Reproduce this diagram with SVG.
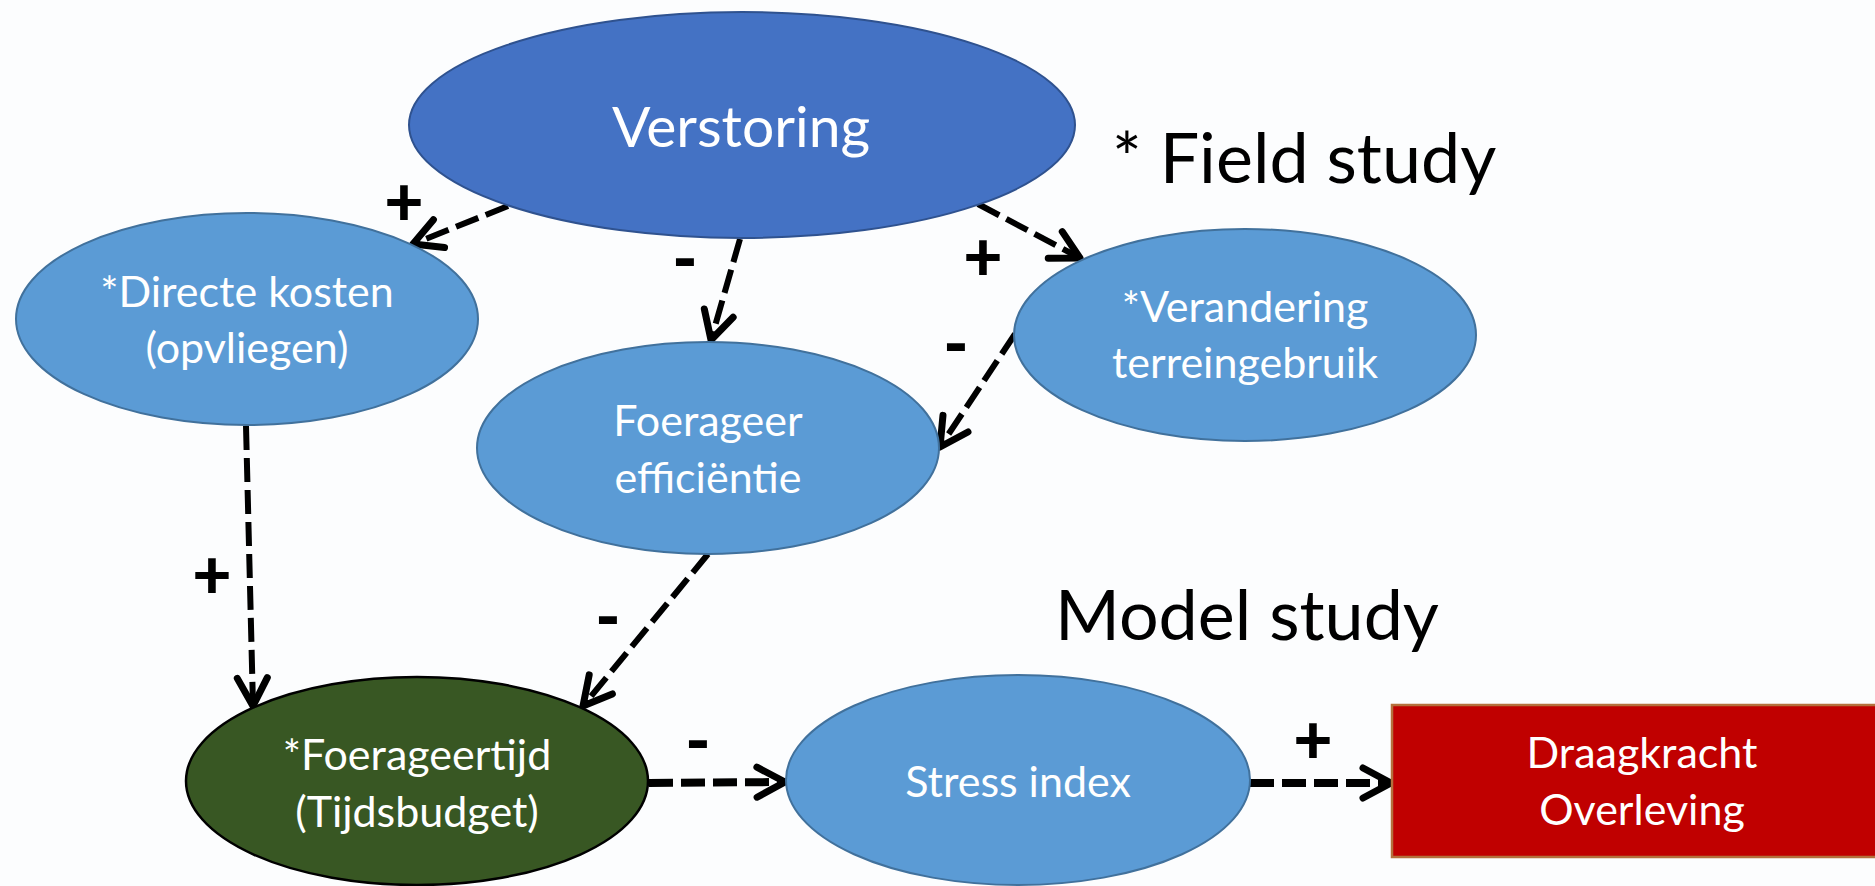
<svg xmlns="http://www.w3.org/2000/svg" width="1875" height="886" viewBox="0 0 1875 886">
<style>
.bg{fill:#FCFDFE}
.node-text{font-family:Lato,"Liberation Sans",sans-serif;fill:#FFFFFF;text-anchor:middle}
.blue{fill:#5B9BD5;stroke:#41719C;stroke-width:2}
.dark{fill:#4472C4;stroke:#2F528F;stroke-width:2}
.green{fill:#385723;stroke:#000000;stroke-width:2.5}
.red{fill:#C00000;stroke:#B4703C;stroke-width:2.5}
.conn{fill:none;stroke:#000000;stroke-width:6;stroke-dasharray:24 8}
.conn-h{stroke-width:8}
.sign{font-family:Lato,"Liberation Sans",sans-serif;font-weight:900;font-size:68px;fill:#000000;text-anchor:middle}
.title{font-family:Lato,"Liberation Sans",sans-serif;font-size:70px;fill:#000000}
</style>
<defs>
<marker id="arrow" markerUnits="userSpaceOnUse" markerWidth="60" markerHeight="60" viewBox="-40 -30 50 60" refX="0" refY="0" orient="auto" overflow="visible">
<path d="M -28 -15 L 0 0 L -28 15" fill="none" stroke="#000000" stroke-width="7" stroke-linecap="round" stroke-linejoin="round" stroke-dasharray="none"/>
</marker>
</defs>
<rect class="bg" x="0" y="0" width="1875" height="886"/>

<g id="connectors">
<path class="conn" d="M 508 206 L 413 244" marker-end="url(#arrow)"/>
<path class="conn" d="M 740 239 L 711 340" marker-end="url(#arrow)"/>
<path class="conn" d="M 978 204 L 1080 258" marker-end="url(#arrow)"/>
<path class="conn" d="M 1015 334 L 940 447" marker-end="url(#arrow)"/>
<path class="conn" d="M 246 426 L 253 706" marker-end="url(#arrow)"/>
<path class="conn" d="M 708 554 L 583 706" marker-end="url(#arrow)"/>
<path class="conn conn-h" d="M 649 783 L 785 782" marker-end="url(#arrow)"/>
<path class="conn conn-h" d="M 1250 783 L 1391 783" marker-end="url(#arrow)"/>
<text class="sign" x="404" y="226">+</text>
<text class="sign" x="685" y="283">-</text>
<text class="sign" x="983" y="281">+</text>
<text class="sign" x="956" y="368">-</text>
<text class="sign" x="212" y="599">+</text>
<text class="sign" x="608" y="641">-</text>
<text class="sign" x="698" y="765">-</text>
<text class="sign" x="1313" y="764">+</text>
</g>

<g id="verstoring">
<ellipse class="dark" cx="742" cy="125" rx="333" ry="113"/>
<text class="node-text" x="741" y="147" font-size="57">Verstoring</text>
</g>

<g id="directe-kosten">
<ellipse class="blue" cx="247" cy="319" rx="231" ry="106"/>
<text class="node-text" x="247" y="307" font-size="43">*Directe kosten</text>
<text class="node-text" x="247" y="363" font-size="43">(opvliegen)</text>
</g>

<g id="foerageer-efficientie">
<ellipse class="blue" cx="708" cy="448" rx="231" ry="106"/>
<text class="node-text" x="708" y="436" font-size="43">Foerageer</text>
<text class="node-text" x="708" y="493" font-size="43">efficiëntie</text>
</g>

<g id="verandering-terreingebruik">
<ellipse class="blue" cx="1245" cy="335" rx="231" ry="106"/>
<text class="node-text" x="1245" y="322" font-size="43">*Verandering</text>
<text class="node-text" x="1245" y="378" font-size="43">terreingebruik</text>
</g>

<g id="foerageertijd">
<ellipse class="green" cx="417" cy="781" rx="231" ry="104"/>
<text class="node-text" x="417" y="770" font-size="43">*Foerageertijd</text>
<text class="node-text" x="417" y="827" font-size="43">(Tijdsbudget)</text>
</g>

<g id="stress-index">
<ellipse class="blue" cx="1018" cy="780" rx="232" ry="105"/>
<text class="node-text" x="1018" y="797" font-size="43">Stress index</text>
</g>

<g id="draagkracht-overleving">
<rect class="red" x="1392" y="705" width="500" height="152"/>
<text class="node-text" x="1642" y="768" font-size="43">Draagkracht</text>
<text class="node-text" x="1642" y="825" font-size="43">Overleving</text>
</g>

<g id="labels">
<text class="title" x="1112" y="183">* Field study</text>
<text class="title" x="1055" y="640">Model study</text>
</g>
</svg>
